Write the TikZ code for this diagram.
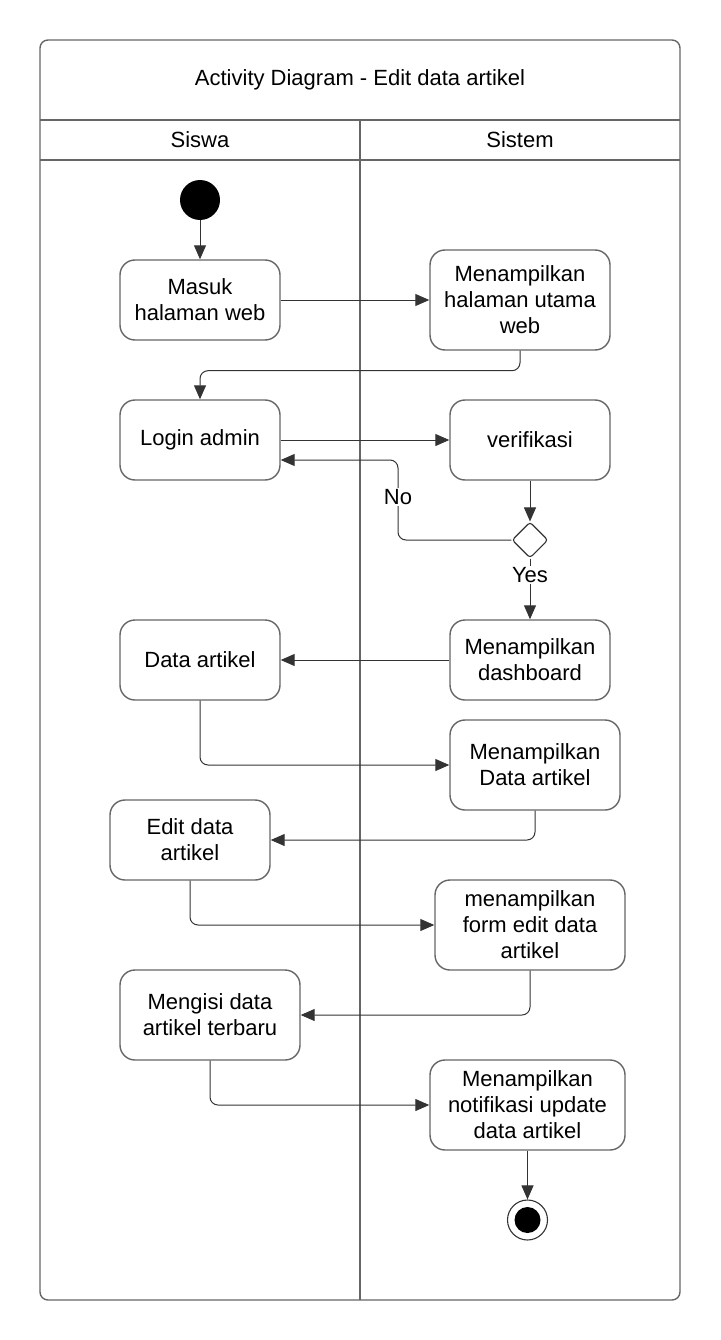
\documentclass[tikz,border=0pt]{standalone}
\usepackage{fontspec}
\setmainfont{Liberation Sans}
\usetikzlibrary{arrows.meta,shapes.geometric}
\begin{document}
\begin{tikzpicture}[x=1pt,y=-1pt,
  frame/.style={draw=black!60, line width=1.4pt},
  act/.style={draw=black!60, line width=1.4pt, rounded corners=15pt, fill=white, align=center, inner sep=0pt, font=\fontsize{22}{26}\selectfont},
  flow/.style={draw=black!80, line width=1pt, -{Triangle[length=14pt,width=12pt]}, rounded corners=8pt},
  lbl/.style={font=\fontsize{22}{26}\selectfont, fill=white, inner sep=1pt},
  hdr/.style={font=\fontsize{22}{26}\selectfont}]
\useasboundingbox (0,0) rectangle (720,1340);
% frame
\draw[frame, rounded corners=8pt] (40,40) rectangle (680,1300);
\draw[frame] (40,120) -- (680,120);
\draw[frame] (40,160) -- (680,160);
\draw[frame] (360,120) -- (360,1300);
\node[hdr] (title) at (360,80) {Activity Diagram - Edit data artikel};
\node[hdr] (siswa) at (200,140) {Siswa};
\node[hdr] (sistem) at (520,140) {Sistem};
% nodes
\node[circle, fill=black, minimum size=40pt, inner sep=0pt] (start) at (200,200) {};
\node[act, minimum width=160pt, minimum height=80pt] (masuk) at (200,300) {Masuk\\halaman web};
\node[act, minimum width=180pt, minimum height=100pt] (tampil1) at (520,300) {Menampilkan\\halaman utama\\web};
\node[act, minimum width=160pt, minimum height=80pt] (login) at (200,440) {Login admin};
\node[act, minimum width=160pt, minimum height=80pt] (verif) at (530,440) {verifikasi};
\node[diamond, draw=black!80, line width=1.1pt, fill=white, minimum size=36pt, inner sep=0pt, rounded corners=3pt] (dec) at (530,540) {};
\node[act, minimum width=160pt, minimum height=80pt] (dash) at (530,660) {Menampilkan\\dashboard};
\node[act, minimum width=160pt, minimum height=80pt] (dataart) at (200,660) {Data artikel};
\node[act, minimum width=170pt, minimum height=90pt] (tampilda) at (535,765) {Menampilkan\\Data artikel};
\node[act, minimum width=160pt, minimum height=80pt] (edit) at (190,840) {Edit data\\artikel};
\node[act, minimum width=190pt, minimum height=90pt] (form) at (530,925) {menampilkan\\form edit data\\artikel};
\node[act, minimum width=180pt, minimum height=90pt] (mengisi) at (210,1015) {Mengisi data\\artikel terbaru};
\node[act, minimum width=195pt, minimum height=90pt] (notif) at (527.5,1105) {Menampilkan\\notifikasi update\\data artikel};
\node[circle, draw=black!80, line width=1.1pt, fill=white, minimum size=40pt, inner sep=0pt] (end) at (527.5,1220) {};
\fill[black] (end.center) circle (13pt);
\coordinate (nocorner) at (398,460);
% connectors
\draw[flow] (start) -- (masuk);
\draw[flow] (masuk) -- (tampil1);
\draw[flow] (tampil1.south) -- ++(0,20) -| (login.north);
\draw[flow] (login) -- (verif);
\draw[flow] (verif) -- (dec);
\draw[flow] (dec.west) -| (nocorner) -- (login.east |- nocorner);
\node[lbl] (no) at (398,497) {No};
\draw[flow] (dec) -- (dash);
\node[lbl] (yes) at (530,575) {Yes};
\draw[flow] (dash) -- (dataart);
\draw[flow] (dataart.south) |- (tampilda.west);
\draw[flow] (tampilda.south) |- (edit.east);
\draw[flow] (edit.south) |- (form.west);
\draw[flow] (form.south) |- (mengisi.east);
\draw[flow] (mengisi.south) |- (notif.west);
\draw[flow] (notif) -- (end);
\end{tikzpicture}
\end{document}
